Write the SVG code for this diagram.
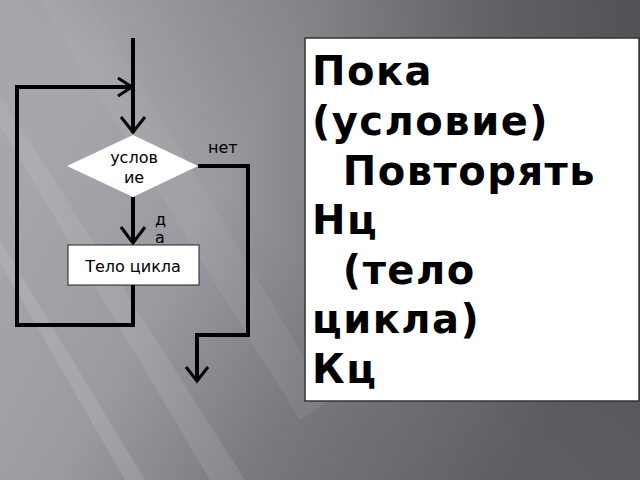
<svg xmlns="http://www.w3.org/2000/svg" width="640" height="480" viewBox="0 0 640 480">
<defs>
<linearGradient id="bg" gradientUnits="userSpaceOnUse" x1="60" y1="120" x2="560" y2="400">
<stop offset="0" stop-color="#a6a6ac"/>
<stop offset="0.3" stop-color="#9a9aa0"/>
<stop offset="0.6" stop-color="#78787d"/>
<stop offset="1" stop-color="#5d5d62"/>
</linearGradient>
<linearGradient id="tr" gradientUnits="userSpaceOnUse" x1="300" y1="260" x2="560" y2="-40">
<stop offset="0" stop-color="#3a3a3e" stop-opacity="0"/>
<stop offset="1" stop-color="#3a3a3e" stop-opacity="0.5"/>
</linearGradient>
<linearGradient id="st" gradientUnits="userSpaceOnUse" x1="0" y1="480" x2="320" y2="100">
<stop offset="0" stop-color="#fff" stop-opacity="0.14"/>
<stop offset="1" stop-color="#fff" stop-opacity="0"/>
</linearGradient>
<style>
.ln{fill:none;stroke:#000;stroke-width:4;stroke-linejoin:miter}
.ah{fill:none;stroke:#000;stroke-width:3}
.sm{font-family:"DejaVu Sans",sans-serif;font-size:16px;fill:#000}
.big{font-family:"DejaVu Sans",sans-serif;font-weight:bold;font-size:40px;fill:#000;letter-spacing:1.5px}
</style>
</defs>
<rect width="640" height="480" fill="url(#bg)"/>
<rect width="640" height="480" fill="url(#tr)"/>
<g fill="url(#st)">
<polygon points="0,95 0,125 210,480 245,480"/>
<polygon points="0,240 0,262 125,480 145,480"/>
<polygon points="40,0 90,0 330,400 300,420"/>
</g>
<g id="connectors">
<path class="ln" d="M133,38 V133"/>
<path class="ah" d="M121,117 L133,132 L145,117"/>
<path class="ln" d="M133,197 V243"/>
<path class="ah" d="M121,227 L133,243 L145,227"/>
<path class="ln" d="M133,285 V325 H17 V87 H133"/>
<path class="ah" d="M118,78 L132,87 L118,96"/>
<path class="ln" d="M198,166 H248 V335 H197 V380"/>
<path class="ah" d="M186,367 L197,381 L208,367"/>
</g>
<g id="condition">
<polygon points="133,135 198,166 133,197 67,166" fill="#fff"/>
<text class="sm" x="134" y="163" text-anchor="middle">услов</text>
<text class="sm" x="134" y="183" text-anchor="middle">ие</text>
</g>
<g id="labels">
<text class="sm" x="208" y="153">нет</text>
<text class="sm" x="155" y="225">д</text>
<text class="sm" x="155" y="243">а</text>
</g>
<g id="body">
<rect x="68" y="245" width="131" height="40" fill="#fff" stroke="#222" stroke-width="1"/>
<text class="sm" x="133" y="272" text-anchor="middle">Тело цикла</text>
</g>
<g id="code">
<rect x="305" y="38" width="334" height="363" fill="#fff" stroke="#333" stroke-width="1.5"/>
<text class="big" x="312" y="85">Пока</text>
<text class="big" x="312" y="135">(условие)</text>
<text class="big" x="312" y="185" xml:space="preserve">  Повторять</text>
<text class="big" x="312" y="234">Нц</text>
<text class="big" x="312" y="284" xml:space="preserve">  (тело</text>
<text class="big" x="312" y="333">цикла)</text>
<text class="big" x="312" y="383">Кц</text>
</g>
</svg>
